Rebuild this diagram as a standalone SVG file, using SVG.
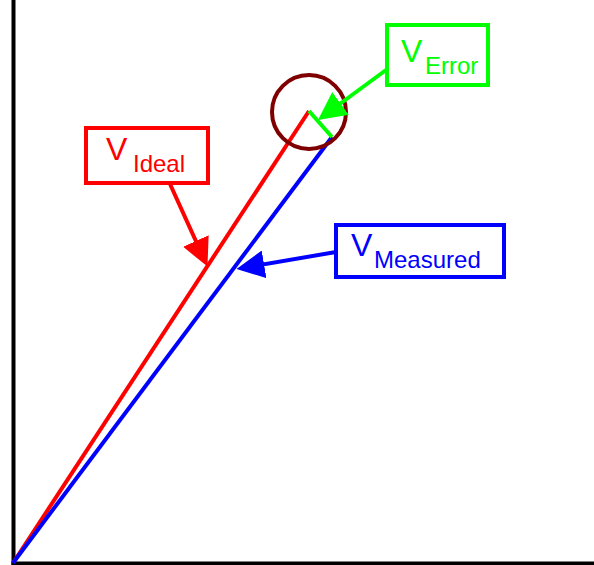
<svg xmlns="http://www.w3.org/2000/svg" width="594" height="565" viewBox="0 0 594 565">
<style>
.box{fill:#fff;stroke-width:4}
.t{font-family:"Liberation Sans",Arial,sans-serif}
.v{font-size:32px}
.s{font-size:24px}
.ln{stroke-width:4;fill:none}
</style>
<defs>
<marker id="ag" viewBox="0 0 28 28" refX="23" refY="14" markerWidth="28" markerHeight="28" markerUnits="userSpaceOnUse" orient="auto"><path d="M0,0 L28,14 L0,28 z" fill="#00ff00"/></marker>
<marker id="arr" viewBox="0 0 28 28" refX="23" refY="14" markerWidth="28" markerHeight="28" markerUnits="userSpaceOnUse" orient="auto"><path d="M0,0 L28,14 L0,28 z" fill="#ff0000"/></marker>
<marker id="ab" viewBox="0 0 28 28" refX="23" refY="14" markerWidth="28" markerHeight="28" markerUnits="userSpaceOnUse" orient="auto"><path d="M0,0 L28,14 L0,28 z" fill="#0000ff"/></marker>
</defs>
<rect width="594" height="565" fill="#fff"/>
<g id="axes">
<line x1="13.5" y1="0" x2="13.5" y2="565" stroke="#000" stroke-width="4"/>
<line x1="11.5" y1="563.5" x2="594" y2="563.5" stroke="#000" stroke-width="4"/>
</g>
<g id="vectors">
<line class="ln" x1="13" y1="563" x2="309" y2="111" stroke="#ff0000"/>
<line class="ln" x1="13" y1="563" x2="332" y2="137" stroke="#0000ff"/>
<line class="ln" x1="309" y1="111" x2="332" y2="137" stroke="#00ff00"/>
</g>
<g id="circle">
<circle cx="309" cy="112" r="37" fill="none" stroke="#7f0000" stroke-width="4"/>
</g>
<g id="connectors">
<line class="ln" x1="386" y1="70" x2="322" y2="117" stroke="#00ff00" marker-end="url(#ag)"/>
<line class="ln" x1="170" y1="184" x2="205.4" y2="262" stroke="#ff0000" marker-end="url(#arr)"/>
<line class="ln" x1="336" y1="252" x2="241.4" y2="268.2" stroke="#0000ff" marker-end="url(#ab)"/>
</g>
<g id="v-ideal">
<rect class="box" x="86" y="128" width="122" height="55" stroke="#ff0000"/>
<text class="t" fill="#ff0000"><tspan class="v" x="106" y="160">V</tspan><tspan class="s" x="133" y="172">Ideal</tspan></text>
</g>
<g id="v-error">
<rect class="box" x="387" y="25" width="101" height="60" stroke="#00ff00"/>
<text class="t" fill="#00ff00"><tspan class="v" x="401" y="62">V</tspan><tspan class="s" x="425" y="74">Error</tspan></text>
</g>
<g id="v-measured">
<rect class="box" x="336" y="225" width="168" height="52" stroke="#0000ff"/>
<text class="t" fill="#0000ff"><tspan class="v" x="351" y="256">V</tspan><tspan class="s" x="374" y="268">Measured</tspan></text>
</g>
</svg>
